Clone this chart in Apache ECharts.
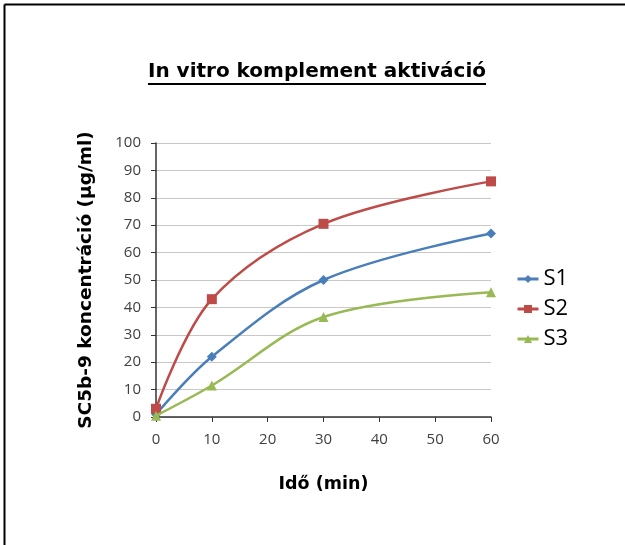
<!DOCTYPE html>
<html>
<head>
<meta charset="utf-8">
<script src="https://cdn.jsdelivr.net/npm/echarts@6/dist/echarts.min.js"></script>
<style>
  html, body { margin: 0; padding: 0; background: #fff; }
  #chart { width: 625px; height: 545px; }
</style>
</head>
<body>
<div id="chart"></div>
<script>
// Sampling times (min) and measured SC5b-9 concentrations (µg/ml)
const times = [0, 10, 30, 60];
const s1 = [1, 22, 50, 67];
const s2 = [3, 43, 70.5, 86];
const s3 = [0.5, 11.5, 36.5, 45.5];
const seriesNames = ['S1', 'S2', 'S3'];
const xTicks = [0, 10, 20, 30, 40, 50, 60];
const yTicks = [0, 10, 20, 30, 40, 50, 60, 70, 80, 90, 100];

const titleText = 'In vitro komplement aktiváció';
const titleFamily = '"DejaVu Sans"';

function pairs(xs, ys) { return xs.map((x, i) => [x, ys[i]]); }

// size the title so it spans 340px, then underline it
const cv = document.createElement('canvas').getContext('2d');
cv.font = 'bold 20px ' + titleFamily;
const titleSize = Math.round(20 * 340 / cv.measureText(titleText).width * 2) / 2;
const titleFont = 'bold ' + titleSize + 'px ' + titleFamily;
cv.font = titleFont;
const titleW = cv.measureText(titleText).width;
const titleCx = 317;

const chart = echarts.init(document.getElementById('chart'), null, { renderer: 'canvas' });

const colors = ['#4a7ebb', '#be4b48', '#98b954'];
const symbols = ['diamond', 'rect', 'triangle'];
const sizes = [10, 10, 10];
const datasets = [s1, s2, s3];

chart.setOption({
  animation: false,
  backgroundColor: '#fff',
  color: colors,
  graphic: [
    { type: 'line', shape: { x1: 4.5, y1: 4.5, x2: 625, y2: 4.5 }, style: { stroke: '#000', lineWidth: 2 } },
    { type: 'line', shape: { x1: 4.5, y1: 4.5, x2: 4.5, y2: 545 }, style: { stroke: '#000', lineWidth: 2 } },
    { type: 'text', x: titleCx, y: 72,
      style: { text: titleText, font: titleFont, fill: '#000', align: 'center', verticalAlign: 'middle' } },
    { type: 'line', shape: { x1: titleCx - titleW / 2, y1: 84, x2: titleCx + titleW / 2, y2: 84 },
      style: { stroke: '#000', lineWidth: 2 } }
  ],
  grid: { left: 156, right: 134, top: 143, bottom: 128, containLabel: false },
  legend: {
    orient: 'vertical',
    left: 511,
    top: 263,
    itemWidth: 21,
    itemHeight: 10,
    itemGap: 8,
    data: seriesNames,
    lineStyle: { width: 3 },
    textStyle: { fontFamily: 'Open Sans', fontSize: 22, color: '#000' }
  },
  xAxis: {
    type: 'value',
    min: xTicks[0],
    max: xTicks[xTicks.length - 1],
    interval: 10,
    name: 'Idő (min)',
    nameLocation: 'middle',
    nameGap: 58,
    nameTextStyle: { fontFamily: 'DejaVu Sans', fontWeight: 'bold', fontSize: 17.5, color: '#000' },
    axisLine: { lineStyle: { color: '#333', width: 1.5 } },
    axisTick: { show: true, length: 5, lineStyle: { color: '#333' } },
    axisLabel: { fontFamily: 'Open Sans', fontSize: 15, color: '#404040', margin: 15 },
    splitLine: { show: false }
  },
  yAxis: {
    type: 'value',
    min: yTicks[0],
    max: yTicks[yTicks.length - 1],
    interval: 10,
    name: 'SC5b-9 koncentráció (µg/ml)',
    nameLocation: 'middle',
    nameGap: 60,
    nameTextStyle: { fontFamily: 'DejaVu Sans', fontWeight: 'bold', fontSize: 18.5, color: '#000' },
    axisLine: { show: true, lineStyle: { color: '#333', width: 1.5 } },
    axisTick: { show: true, length: 5, lineStyle: { color: '#333' } },
    axisLabel: { fontFamily: 'Open Sans', fontSize: 15, color: '#404040', margin: 15 },
    splitLine: { show: true, lineStyle: { color: '#c8c8c8', width: 1 } }
  },
  series: seriesNames.map((name, i) => ({
    name,
    type: 'line',
    data: pairs(times, datasets[i]),
    smooth: 0.35,
    symbol: symbols[i],
    symbolSize: sizes[i],
    showAllSymbol: true,
    lineStyle: { width: 2.5, color: colors[i] },
    itemStyle: { color: colors[i] },
    z: 2 + i
  }))
});
</script>
</body>
</html>
